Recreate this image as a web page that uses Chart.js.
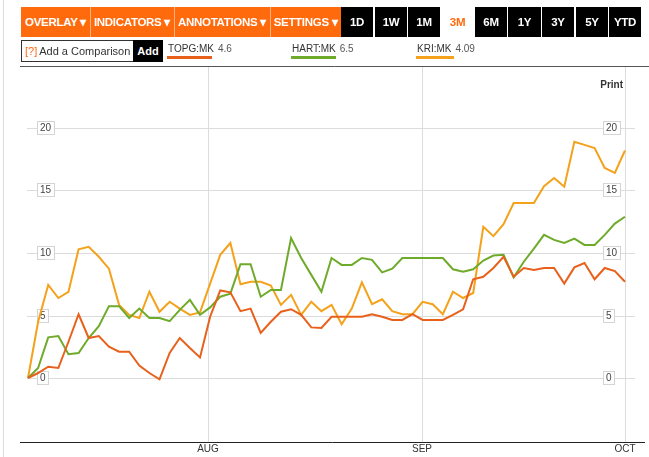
<!DOCTYPE html>
<html>
<head>
<meta charset="utf-8">
<script src="https://cdn.jsdelivr.net/npm/chart.js@4.4.1/dist/chart.umd.min.js"></script>
<style>
  html,body{margin:0;padding:0;background:#fff;width:649px;height:457px;overflow:hidden;font-family:"Liberation Sans",Arial,sans-serif;}
  #c{position:absolute;left:0;top:0;z-index:0;}
  .btn{position:absolute;top:7px;height:30px;display:flex;align-items:center;justify-content:center;color:#fff;font-weight:bold;font-size:11.5px;letter-spacing:-0.3px;z-index:1;white-space:nowrap;}
  .or{background:#ff6a0d;}
  .bk{background:#000;}
  .sel{background:#fff;color:#ff6a0d;}
  .sep{position:absolute;top:7px;height:30px;width:1px;background:#ffb27a;z-index:2;}
  #cmp{position:absolute;left:21px;top:40px;width:108px;height:20px;border:1px solid #333;font-size:11px;color:#333;display:flex;align-items:center;padding-left:3px;box-sizing:content-box;z-index:1;white-space:nowrap;overflow:hidden;}
  #cmp b{color:#ff6a0d;font-weight:normal;margin-right:2px;}
  #add{position:absolute;left:133px;top:40px;width:30px;height:22px;background:#000;color:#fff;font-weight:bold;font-size:11px;display:flex;align-items:center;justify-content:center;z-index:1;}
  .lg{position:absolute;top:43px;font-size:10px;color:#333;z-index:1;white-space:nowrap;}
  .lg .v{margin-left:4px;color:#555;}
  .bar{position:absolute;top:56px;height:3px;z-index:1;}
</style>
</head>
<body>
<canvas id="c" width="649" height="457"></canvas>
<div id="ui"></div>
<script>
// ---- data (percent change since start) ----
const seriesNames = ['TOPG:MK', 'HART:MK', 'KRI:MK'];
const seriesLast = ['4.6', '6.5', '4.09'];
const seriesColors = ['#e8611c', '#6fab2b', '#f4a11b'];

const topg = [0, 0.4, 0.9, 0.8, 2.9, 5.1, 3.2, 3.35, 2.5, 2.1,
  2.1, 1.0, 0.4, -0.1, 2.0, 3.2, 2.4, 1.65, 4.9, 7.0,
  6.85, 5.35, 5.55, 3.6, 4.5, 5.3, 5.5, 5.05, 4.05, 4.0,
  4.9, 4.9, 4.9, 4.9, 5.1, 4.9, 4.65, 4.65, 5.1, 4.65,
  4.65, 4.65, 5.05, 5.5, 7.9, 8.1, 8.8, 9.7, 8.1, 8.8,
  8.65, 8.8, 8.8, 7.55, 8.85, 9.2, 7.9, 8.8, 8.55, 7.7];

const hart = [0, 0.8, 3.25, 3.35, 1.9, 2.0, 3.2, 4.15, 5.75, 5.75,
  4.8, 5.55, 4.8, 4.8, 4.55, 5.45, 6.25, 5.05, 5.65, 6.5,
  6.75, 9.1, 9.1, 6.5, 7.05, 7.05, 11.2, 9.6, 8.25, 6.9,
  9.6, 9.05, 9.05, 9.6, 9.45, 8.45, 8.75, 9.6, 9.6, 9.6,
  9.6, 9.6, 8.7, 8.5, 8.7, 9.4, 9.8, 9.85, 8.05, 9.3,
  10.35, 11.45, 11.05, 10.8, 11.15, 10.65, 10.65, 11.45, 12.35, 12.9];

const kri = [0, 4.5, 7.45, 6.4, 6.9, 10.3, 10.5, 9.7, 8.75, 5.85,
  5.05, 4.8, 6.9, 5.3, 6.1, 5.55, 5.05, 5.25, 7.55, 9.85,
  10.8, 7.5, 7.7, 7.7, 7.4, 5.85, 6.65, 5.05, 6.1, 5.35,
  5.85, 4.3, 5.55, 7.65, 5.9, 6.3, 5.35, 5.1, 5.1, 6.1,
  5.9, 5.1, 6.9, 6.4, 6.8, 12.1, 11.35, 12.3, 14.0, 14.0,
  14.0, 15.35, 16.0, 15.3, 18.9, 18.65, 18.4, 16.8, 16.4, 18.2];

const yTickValues = [0, 5, 10, 15, 20];
const monthLabels = ['AUG', 'SEP', 'OCT'];
const monthStartDay = [17.79, 38.94, 59];   // trading-day index where each month begins

const toolbarLeft = ['OVERLAY ▾', 'INDICATORS ▾', 'ANNOTATIONS ▾', 'SETTINGS ▾'];
const rangeButtons = ['1D', '1W', '1M', '3M', '6M', '1Y', '3Y', '5Y', 'YTD'];
const selectedRange = '3M';

// ---- HTML toolbar ----
const ui = document.getElementById('ui');
function el(cls, css, html){ const d=document.createElement('div'); d.className=cls; Object.assign(d.style, css); d.innerHTML=html||''; ui.appendChild(d); return d; }
const orPos = [[21,69],[90,84],[174,96],[270,71]];
toolbarLeft.forEach((t,i)=>{ el('btn or',{left:orPos[i][0]+'px',width:orPos[i][1]+'px'},t); });
[90,174,270].forEach(x=>el('sep',{left:x+'px'}));
const rPos = [[341,32],[375,32],[408,32],[441,33],[475,32],[508,33],[542,32],[576,32],[609,32]];
rangeButtons.forEach((t,i)=>{ el('btn '+(t===selectedRange?'sel':'bk'),{left:rPos[i][0]+'px',width:rPos[i][1]+'px'},t); });
const cmp = document.createElement('div'); cmp.id='cmp'; cmp.innerHTML='<b>[?]</b>Add a Comparison'; ui.appendChild(cmp);
const add = document.createElement('div'); add.id='add'; add.textContent='Add'; ui.appendChild(add);
const lgPos = [[168,45],[292,45],[417,38]];
seriesNames.forEach((n,i)=>{
  el('lg',{left:lgPos[i][0]+'px'}, n+'<span class="v">'+seriesLast[i]+'</span>');
  el('bar',{left:(lgPos[i][0]-1)+'px',width:lgPos[i][1]+'px',background:seriesColors[i]});
});

// ---- chart ----
const seriesValues = [topg, hart, kri];
const datasets = seriesValues.map((arr,i)=>({
  label: seriesNames[i],
  data: arr.map((v,k)=>({x:k, y:v})),
  borderColor: seriesColors[i],
  borderWidth: 2,
  pointRadius: 0,
  tension: 0,
  fill: false
}));

function L(ctx,x1,y1,x2,y2){ ctx.beginPath(); ctx.moveTo(x1,y1); ctx.lineTo(x2,y2); ctx.stroke(); }

const decor = {
  id: 'decor',
  beforeDatasetsDraw(chart){
    const {ctx, scales:{x, y}, chartArea:a} = chart;
    ctx.save();
    ctx.lineWidth = 1;
    ctx.strokeStyle = '#dcdcdc';
    L(ctx, 3.5, 0, 3.5, 457);
    yTickValues.forEach(v=>{ const py=Math.round(y.getPixelForValue(v))+0.5; L(ctx, 27, py, 635, py); });
    monthStartDay.forEach(m=>{ const px=Math.round(x.getPixelForValue(m))+0.5; L(ctx, px, a.top, px, a.bottom); });
    ctx.font = '10px "Liberation Sans", Arial, sans-serif';
    ctx.textBaseline = 'middle';
    ctx.textAlign = 'left';
    yTickValues.forEach(v=>{
      const py = Math.round(y.getPixelForValue(v));
      const t = String(v);
      const w = Math.ceil(ctx.measureText(t).width);
      [37, 603].forEach(bx=>{
        ctx.fillStyle = '#fff';
        ctx.fillRect(bx, py-7, w+6, 14);
        ctx.strokeStyle = '#d4d4d4';
        ctx.strokeRect(bx+0.5, py-6.5, w+5, 13);
        ctx.fillStyle = '#444';
        ctx.fillText(t, bx+3, py);
      });
    });
    ctx.restore();
  },
  afterDatasetsDraw(chart){
    const {ctx, scales:{x}, chartArea:a} = chart;
    ctx.save();
    ctx.lineWidth = 1;
    ctx.strokeStyle = '#222';
    L(ctx, 20, a.bottom+0.5, 645, a.bottom+0.5);
    ctx.strokeStyle = '#555';
    L(ctx, 20, 66.5, 649, 66.5);
    ctx.fillStyle = '#333';
    ctx.font = '10px "Liberation Sans", Arial, sans-serif';
    ctx.textAlign = 'center';
    ctx.textBaseline = 'middle';
    monthStartDay.forEach((m,i)=>{ ctx.fillText(monthLabels[i], x.getPixelForValue(m), 449); });
    ctx.font = 'bold 10px "Liberation Sans", Arial, sans-serif';
    ctx.textAlign = 'right';
    ctx.fillText('Print', 623, 85);
    ctx.restore();
  }
};

new Chart(document.getElementById('c'), {
  type: 'line',
  data: { datasets },
  options: {
    responsive: false,
    animation: false,
    events: [],
    layout: { padding: { left: 20, right: 4, top: 67, bottom: 15 } },
    plugins: { legend: { display: false }, tooltip: { enabled: false }, title: { display: false } },
    scales: {
      x: { type: 'linear', display: false, min: -0.79, max: 60.98 },
      y: { type: 'linear', display: false, min: -5.12, max: 24.88 }
    }
  },
  plugins: [decor]
});
</script>
</body>
</html>
